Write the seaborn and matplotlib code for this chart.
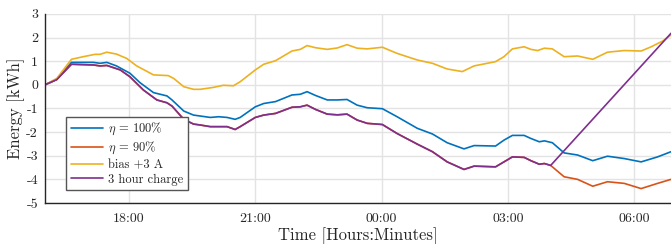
import seaborn as sns
import pandas as pd
import numpy as np
from matplotlib import pyplot as plt

# hours since midnight of first day (16 = 16:00, 24 = 00:00, 30 = 06:00)
t_100 = [16.0, 16.28, 16.63, 17.15, 17.31, 17.47, 17.7, 18.02, 18.26, 18.58, 18.9, 19.02, 19.3, 19.53,
         19.69, 19.93, 20.13, 20.33, 20.52, 20.64, 21.0, 21.2, 21.48, 21.87, 22.07, 22.23, 22.43, 22.71,
         22.95, 23.18, 23.42, 23.66, 24.02, 24.37, 24.85, 25.21, 25.56, 25.96, 26.2, 26.71, 26.91, 27.11,
         27.39, 27.55, 27.75, 27.87, 28.06, 28.34, 28.66, 29.02, 29.37, 29.77, 30.17, 30.56, 30.88]
e_100 = [0.0, 0.23, 0.95, 0.95, 0.91, 0.95, 0.80, 0.49, 0.09, -0.33, -0.47, -0.64, -1.11, -1.28,
         -1.32, -1.38, -1.35, -1.38, -1.46, -1.38, -0.93, -0.79, -0.71, -0.43, -0.40, -0.29, -0.45, -0.64,
         -0.64, -0.62, -0.86, -0.97, -1.01, -1.35, -1.84, -2.08, -2.45, -2.71, -2.57, -2.59, -2.34, -2.14,
         -2.14, -2.27, -2.41, -2.37, -2.45, -2.88, -2.97, -3.21, -3.02, -3.12, -3.26, -3.05, -2.83]

t_90 = [16.0, 16.28, 16.63, 17.15, 17.31, 17.47, 17.79, 18.02, 18.34, 18.66, 18.9, 19.02, 19.3, 19.53,
        19.69, 19.93, 20.13, 20.33, 20.52, 20.64, 21.0, 21.2, 21.48, 21.87, 22.07, 22.23, 22.43, 22.71,
        22.95, 23.18, 23.42, 23.66, 24.02, 24.37, 24.85, 25.21, 25.56, 25.96, 26.2, 26.71, 26.91, 27.11,
        27.39, 27.55, 27.75, 27.87, 28.02, 28.34, 28.66, 29.02, 29.37, 29.77, 30.17, 30.56, 30.88]
e_90 = [0.0, 0.22, 0.87, 0.84, 0.80, 0.82, 0.63, 0.34, -0.22, -0.64, -0.76, -0.90, -1.46, -1.66,
        -1.70, -1.77, -1.77, -1.77, -1.89, -1.77, -1.38, -1.28, -1.21, -0.95, -0.93, -0.86, -1.04, -1.24,
        -1.27, -1.24, -1.49, -1.63, -1.68, -2.06, -2.51, -2.83, -3.26, -3.58, -3.44, -3.47, -3.26, -3.05,
        -3.07, -3.21, -3.36, -3.33, -3.41, -3.89, -4.00, -4.29, -4.10, -4.17, -4.39, -4.17, -4.00]

t_bias = [16.0, 16.28, 16.63, 16.91, 17.19, 17.31, 17.47, 17.7, 17.94, 18.18, 18.58, 18.93, 19.06, 19.3,
          19.53, 19.69, 20.0, 20.24, 20.48, 20.64, 21.0, 21.2, 21.48, 21.87, 22.07, 22.23, 22.43, 22.71,
          22.95, 23.18, 23.42, 23.66, 24.02, 24.37, 24.85, 25.21, 25.56, 25.92, 26.2, 26.71, 26.91, 27.11,
          27.39, 27.55, 27.71, 27.87, 28.06, 28.34, 28.66, 29.02, 29.37, 29.77, 30.17, 30.41, 30.69, 30.88]
e_bias = [0.0, 0.27, 1.08, 1.19, 1.29, 1.29, 1.38, 1.30, 1.12, 0.80, 0.42, 0.39, 0.27, -0.08,
          -0.19, -0.19, -0.11, -0.02, -0.04, 0.13, 0.63, 0.87, 1.02, 1.43, 1.50, 1.66, 1.57, 1.50,
          1.56, 1.70, 1.55, 1.52, 1.59, 1.33, 1.05, 0.91, 0.67, 0.56, 0.80, 0.98, 1.19, 1.52,
          1.61, 1.50, 1.45, 1.55, 1.52, 1.19, 1.22, 1.08, 1.38, 1.45, 1.43, 1.61, 1.86, 2.11]

# 3 hour charge: same as eta=90% until 04:00, then charging straight up
charge_start = 28.02
t_charge = [t for t in t_90 if t <= charge_start] + [30.88]
e_charge = e_90[:len(t_charge) - 1] + [2.18]

names = [r"$\eta$ = 100%", r"$\eta$ = 90%", "bias +3 A", "3 hour charge"]
colors = ["#0072BD", "#D95319", "#EDB120", "#7E2F8E"]
xticks = [18, 21, 24, 27, 30]
xticklabels = ["18:00", "21:00", "00:00", "03:00", "06:00"]
yticks = [-5, -4, -3, -2, -1, 0, 1, 2, 3]

df = pd.concat([
    pd.DataFrame({"t": t_100, "e": e_100, "series": names[0]}),
    pd.DataFrame({"t": t_90, "e": e_90, "series": names[1]}),
    pd.DataFrame({"t": t_bias, "e": e_bias, "series": names[2]}),
    pd.DataFrame({"t": t_charge, "e": e_charge, "series": names[3]}),
])

sns.set_theme(style="whitegrid")
plt.rcParams["font.family"] = ["cmr10", "DejaVu Serif"]
plt.rcParams["mathtext.fontset"] = "cm"
plt.rcParams["axes.unicode_minus"] = False

fig = plt.figure(figsize=(6.71, 2.44), dpi=100)
ax = fig.add_axes([0.067, 0.168, 0.933, 0.775])

sns.lineplot(data=df, x="t", y="e", hue="series", hue_order=names, palette=colors,
             estimator=None, sort=False, linewidth=1.2, ax=ax)

ax.set_xlim(16, 30.88)
ax.set_ylim(-5, 3)
ax.set_xticks(xticks)
ax.set_xticklabels(xticklabels)
ax.set_yticks(yticks)
ax.set_yticklabels([str(v) for v in yticks])
ax.tick_params(direction="in", length=5, width=1, colors="#262626", labelsize=10, pad=5)
ax.tick_params(axis="x", pad=7)
ax.grid(True, color="#e3e3e3", linewidth=1)
for s in ["top", "right"]:
    ax.spines[s].set_visible(False)
for s in ["left", "bottom"]:
    ax.spines[s].set_color("#262626")
    ax.spines[s].set_linewidth(1)

ax.set_xlabel("Time [Hours:Minutes]", fontsize=12, color="#262626", labelpad=2)
ax.set_ylabel("Energy [kWh]", fontsize=12, color="#262626", labelpad=1)

leg = ax.legend(loc="lower left", bbox_to_anchor=(0.034, 0.069), borderaxespad=0, fontsize=9,
                frameon=True, fancybox=False, framealpha=1, edgecolor="#555555",
                handlelength=2.6, handletextpad=0.4, labelspacing=0.2, borderpad=0.35)
leg.get_frame().set_linewidth(1)

fig.savefig("out.png", dpi=100)
